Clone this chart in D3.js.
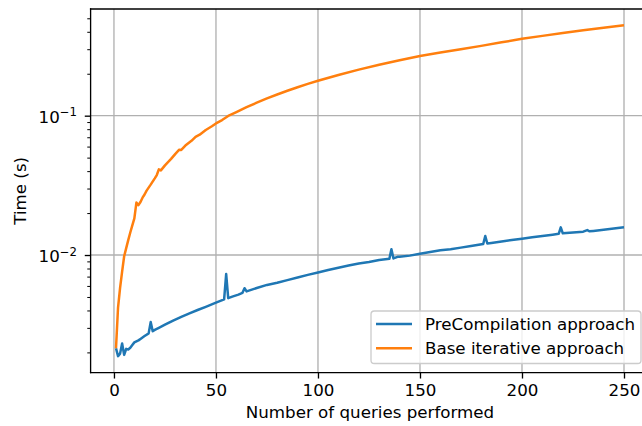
<html>
<head>
<script src="https://d3js.org/d3.v7.min.js"></script>
<style>
body { margin: 0; background: #fff; }
svg { font-family: "DejaVu Sans", sans-serif; }
</style>
</head>
<body>
<svg width="642" height="426"></svg>
<script>
// PreCompilation approach
var preQueries = [1,2,3,4,5,6,7,8,9,10,11,12,13,14,15,16,17,18,19,20,22,25,29,33,37,41,45,50,54,55,56,58,61,63,64,65,70,75,80,85,90,95,100,105,110,115,120,125,130,135,136,137,139,140,145,150,155,160,165,170,175,181,182,183,185,190,195,200,205,210,215,218,219,220,225,230,232,233,235,240,245,250];
var preTimes = [0.00214,0.00188,0.00196,0.00232,0.00192,0.00212,0.00210,0.00216,0.00226,0.00236,0.00240,0.00244,0.00250,0.00256,0.00262,0.00268,0.00274,0.00330,0.00284,0.00290,0.00300,0.00316,0.00338,0.00360,0.00381,0.00403,0.00425,0.00455,0.00480,0.00730,0.00490,0.00503,0.00520,0.00535,0.00578,0.00548,0.00580,0.00610,0.00632,0.00660,0.00690,0.00720,0.00750,0.00780,0.00810,0.00840,0.00870,0.00890,0.00920,0.00940,0.01100,0.00945,0.00970,0.00970,0.00990,0.01020,0.01050,0.01080,0.01100,0.01130,0.01160,0.01200,0.01370,0.01210,0.01220,0.01250,0.01280,0.01310,0.01340,0.01370,0.01400,0.01420,0.01580,0.01430,0.01450,0.01470,0.01510,0.01480,0.01490,0.01520,0.01550,0.01580];

// Base iterative approach
var baseQueries = [1,2,3,4,5,6,7,8,9,10,11,12,13,14,15,16,18,20,21,22,23,25,28,30,32,33,35,38,40,42,45,48,50,53,56,60,65,70,75,80,85,90,95,100,110,120,130,140,150,160,170,180,190,200,210,220,230,240,250];
var baseTimes = [0.00214,0.0042,0.0058,0.0076,0.0098,0.0112,0.0128,0.0145,0.0163,0.0183,0.0238,0.0228,0.0240,0.0258,0.0272,0.0290,0.0320,0.0355,0.0375,0.0412,0.0405,0.0440,0.0490,0.0530,0.0570,0.0568,0.0610,0.0660,0.0705,0.0730,0.0790,0.0840,0.0880,0.0930,0.0995,0.106,0.115,0.124,0.133,0.142,0.151,0.160,0.169,0.178,0.196,0.214,0.232,0.250,0.268,0.284,0.300,0.317,0.336,0.356,0.374,0.392,0.410,0.428,0.446];

var xTicks = [0,50,100,150,200,250];
var yTicks = [0.01,0.1];
var yTickExps = ["\u22122","\u22121"];
var yMinor = [0.002,0.003,0.004,0.005,0.006,0.007,0.008,0.009,0.02,0.03,0.04,0.05,0.06,0.07,0.08,0.09,0.2,0.3,0.4,0.5];

var seriesNames = ["PreCompilation approach","Base iterative approach"];
var colors = ["#1f77b4","#ff7f0e"];

var svg = d3.select("svg");
var pLeft = 90.6, pRight = 649.4, pTop = 9, pBottom = 372.7;
var fs = 16.7;

var x = d3.scaleLinear().domain([-11.45,262.45]).range([pLeft,pRight]);
var y = d3.scaleLog().domain([0.00143,0.583]).range([pBottom,pTop]);

svg.append("defs").append("clipPath").attr("id","clip")
    .append("rect").attr("x",pLeft).attr("y",pTop).attr("width",pRight-pLeft).attr("height",pBottom-pTop);

// grid
var grid = svg.append("g");
grid.selectAll(".gx").data(xTicks).enter().append("line")
    .attr("x1",function(d){return x(d);}).attr("x2",function(d){return x(d);})
    .attr("y1",pTop).attr("y2",pBottom)
    .attr("stroke","#b0b0b0").attr("stroke-width",1.33);
grid.selectAll(".gy").data(yTicks).enter().append("line")
    .attr("x1",pLeft).attr("x2",pRight)
    .attr("y1",function(d){return y(d);}).attr("y2",function(d){return y(d);})
    .attr("stroke","#b0b0b0").attr("stroke-width",1.33);

// lines
var line = d3.line()
    .x(function(d){return x(d[0]);})
    .y(function(d){return y(d[1]);});

var series = [d3.zip(preQueries,preTimes), d3.zip(baseQueries,baseTimes)];
svg.append("g").attr("clip-path","url(#clip)")
    .selectAll("path").data(series).enter().append("path")
    .attr("d",line)
    .attr("fill","none")
    .attr("stroke",function(d,i){return colors[i];})
    .attr("stroke-width",2.5)
    .attr("stroke-linejoin","round");

// axes
var xAxis = svg.append("g").attr("transform","translate(0,"+pBottom+")")
    .call(d3.axisBottom(x).tickValues(xTicks).tickSize(5.83).tickPadding(5.83).tickSizeOuter(0));
xAxis.select(".domain").remove();
xAxis.selectAll("text").attr("font-size",fs).attr("font-family","DejaVu Sans").attr("fill","#000");
xAxis.selectAll("line").attr("stroke","#000").attr("stroke-width",1.33);

var yAxisMinor = svg.append("g").attr("transform","translate("+pLeft+",0)")
    .call(d3.axisLeft(y).tickValues(yMinor).tickSize(3.33).tickFormat(""));
yAxisMinor.select(".domain").remove();
yAxisMinor.selectAll("line").attr("stroke","#000").attr("stroke-width",1);

var yAxis = svg.append("g").attr("transform","translate("+pLeft+",0)")
    .call(d3.axisLeft(y).tickValues(yTicks).tickSize(5.83).tickFormat(""));
yAxis.select(".domain").remove();
yAxis.selectAll("line").attr("stroke","#000").attr("stroke-width",1.33);

yTicks.forEach(function(v,i){
    var t = svg.append("text")
        .attr("x",77).attr("y",y(v)+7)
        .attr("text-anchor","end")
        .attr("font-size",fs);
    t.append("tspan").text("10");
    t.append("tspan").attr("font-size",11.7).attr("dy",-6.5).text(yTickExps[i]);
});

// spines
[[pLeft,pTop,pLeft,pBottom],[pLeft,pBottom,pRight,pBottom],[pLeft,pTop,pRight,pTop]].forEach(function(s){
    svg.append("line").attr("x1",s[0]).attr("y1",s[1]).attr("x2",s[2]).attr("y2",s[3])
        .attr("stroke","#000").attr("stroke-width",1.33).attr("stroke-linecap","square");
});

// axis labels
svg.append("text").attr("x",(pLeft+pRight)/2).attr("y",418)
    .attr("text-anchor","middle").attr("font-size",fs)
    .text("Number of queries performed");
svg.append("text")
    .attr("transform","translate(26,"+((pTop+pBottom)/2)+") rotate(-90)")
    .attr("text-anchor","middle").attr("font-size",fs)
    .text("Time (s)");

// legend
var lg = svg.append("g");
lg.append("rect").attr("x",371).attr("y",311).attr("width",270).attr("height",52.5)
    .attr("rx",3.3)
    .attr("fill","#fff").attr("fill-opacity",0.8)
    .attr("stroke","#cccccc").attr("stroke-width",1.33);
seriesNames.forEach(function(name,i){
    var ly = 324 + i*24.3;
    lg.append("line").attr("x1",376).attr("x2",412).attr("y1",ly).attr("y2",ly)
        .attr("stroke",colors[i]).attr("stroke-width",2.5);
    lg.append("text").attr("x",425).attr("y",ly+5.5).attr("font-size",fs).text(name);
});
</script>
</body>
</html>
